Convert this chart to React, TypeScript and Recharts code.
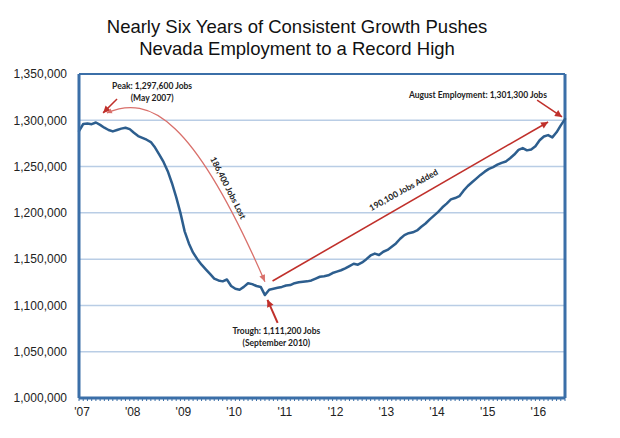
import React from "react";
import {
  LineChart,
  Line,
  XAxis,
  YAxis,
  CartesianGrid,
  ReferenceLine,
  ReferenceDot,
} from "recharts";

// Nevada nonfarm employment, monthly, Jan 2007 .. Aug 2016
const employment = [
  1288400, 1296000, 1296500, 1295800, 1297600, 1295000, 1292000, 1289500, 1288000, 1289500, 1291000, 1292000,
  1290500, 1286500, 1283000, 1281000, 1279000, 1276500, 1270500, 1263000, 1255000, 1245000, 1232000, 1217000,
  1200000, 1180000, 1167000, 1157000, 1150000, 1144000, 1139000, 1134000, 1129000, 1127000, 1126000, 1128000,
  1121000, 1118000, 1117000, 1120000, 1124000, 1123000, 1121000, 1120000, 1111200, 1117000, 1118000, 1119000,
  1120000, 1121500, 1122000, 1124000, 1125000, 1125500, 1126000, 1127000, 1129000, 1131000, 1131500, 1132500,
  1135000, 1136500, 1138000, 1140000, 1142500, 1145000, 1144000, 1146500, 1150000, 1154000, 1156000, 1154500,
  1158000, 1160000, 1163500, 1167000, 1172000, 1176000, 1178000, 1179000, 1181000, 1185000, 1188500, 1193000,
  1197000, 1201000, 1206000, 1210000, 1214500, 1216000, 1218000, 1224000, 1229000, 1233000, 1237000, 1241000,
  1244500, 1247500, 1249500, 1252000, 1254000, 1255500, 1259000, 1263000, 1268000, 1270000, 1267500, 1268500,
  1272000, 1278500, 1282500, 1284000, 1281500, 1287000, 1294500, 1301300,
];
const monthIdx = employment.map((_, i) => i);
const yearLabels = ["'07", "'08", "'09", "'10", "'11", "'12", "'13", "'14", "'15", "'16"];
const yTicks = [1000000, 1050000, 1100000, 1150000, 1200000, 1250000, 1300000, 1350000];

const data = employment.map((v, i) => ({ m: i, jobs: v }));

const FRAME = "#3b6fa8";
const RED = "#c0302b";
const NOTE_FONT = "Lato, 'DejaVu Sans', sans-serif";

function arrowHead(x1: number, y1: number, x2: number, y2: number, color: string, len = 7, half = 3.5) {
  const a = Math.atan2(y2 - y1, x2 - x1);
  const bx = x2 - len * Math.cos(a);
  const by = y2 - len * Math.sin(a);
  const px = -Math.sin(a) * half;
  const py = Math.cos(a) * half;
  return <polygon points={`${x2},${y2} ${bx + px},${by + py} ${bx - px},${by - py}`} fill={color} />;
}

const straightArrow = (color: string, width: number) => (p: any) => {
  const { x1, y1, x2, y2 } = p;
  return (
    <g>
      <line x1={x1} y1={y1} x2={x2} y2={y2} stroke={color} strokeWidth={width} />
      {arrowHead(x1, y1, x2, y2, color)}
    </g>
  );
};

// curved "jobs lost" arrow, control points relative to the segment
const curvedArrow = (p: any) => {
  const { x1, y1, x2, y2 } = p;
  const dx = x2 - x1;
  const dy = y2 - y1;
  const c1x = x1 + 0.27 * dx;
  const c1y = y1 - 0.11 * dy;
  const c2x = x1 + 0.55 * dx;
  const c2y = y1 + 0.03 * dy;
  return (
    <g>
      <path
        d={`M${x1},${y1} C${c1x},${c1y} ${c2x},${c2y} ${x2},${y2}`}
        fill="none"
        stroke="#d9706b"
        strokeWidth={1.3}
      />
      {arrowHead(c2x, c2y, x2, y2, "#d9706b", 7, 3)}
      {arrowHead(c1x, c1y, x1, y1, "#d9706b", 5, 2.5)}
    </g>
  );
};

const note = (lines: string[], angle = 0) => (p: any) => {
  const { cx, cy } = p;
  return (
    <text
      x={cx}
      y={cy}
      textAnchor="middle"
      fontFamily={NOTE_FONT}
      fontWeight={700}
      fontSize={8.5}
      fill="#222"
      transform={angle ? `rotate(${angle} ${cx} ${cy})` : undefined}
    >
      {lines.map((t, i) => (
        <tspan key={i} x={cx} dy={i === 0 ? "0.35em" : 12}>
          {t}
        </tspan>
      ))}
    </text>
  );
};

const xTick = (p: any) => {
  const { x, y, payload } = p;
  if (payload.value % 12 !== 0) return <g />;
  return (
    <text x={x + 3} y={y} dy="0.71em" textAnchor="middle" fontSize={12} fill="#222" fontFamily="'Liberation Sans', Arial, sans-serif">
      {yearLabels[payload.value / 12]}
    </text>
  );
};

export default function App() {
  return (
    <div style={{ position: "absolute", left: 0, top: 0, width: 620, height: 438, background: "#fff" }}>
      <div
        style={{
          position: "absolute",
          left: 0,
          top: 16,
          width: 594,
          textAlign: "center",
          fontFamily: "'Liberation Sans', Arial, sans-serif",
          fontSize: 18.5,
          lineHeight: "22px",
          color: "#111",
        }}
      >
        Nearly Six Years of Consistent Growth Pushes
        <br />
        Nevada Employment to a Record High
      </div>
      <LineChart width={620} height={438} data={data} margin={{ top: 74, right: 55, left: 0, bottom: 0 }}>
        <CartesianGrid vertical={false} stroke="#b9cde5" strokeWidth={1.5} />
        <XAxis
          dataKey="m"
          type="number"
          domain={[0, 115]}
          ticks={monthIdx}
          interval={0}
          height={40}
          axisLine={{ stroke: FRAME, strokeWidth: 3 }}
          tickLine={{ stroke: FRAME, strokeWidth: 1 }}
          tickSize={3}
          tickMargin={6}
          tick={xTick}
        />
        <YAxis
          type="number"
          domain={[1000000, 1350000]}
          ticks={yTicks}
          width={79}
          axisLine={{ stroke: FRAME, strokeWidth: 3 }}
          tickLine={false}
          tickSize={0}
          tickMargin={12}
          tick={{ fontSize: 12, fill: "#222", fontFamily: "'Liberation Sans', Arial, sans-serif" }}
          tickFormatter={(v: number) => v.toLocaleString("en-US")}
        />
        <ReferenceLine y={1350000} stroke={FRAME} strokeWidth={2} ifOverflow="visible" />
        <ReferenceLine x={115} stroke={FRAME} strokeWidth={3} ifOverflow="visible" />
        <Line
          type="linear"
          dataKey="jobs"
          stroke="#2d5e8e"
          strokeWidth={2.5}
          strokeLinejoin="round"
          strokeLinecap="round"
          dot={false}
          isAnimationActive={false}
        />
        {/* annotations */}
        <ReferenceLine
          segment={[{ x: 9.0, y: 1323000 }, { x: 5.7, y: 1308000 }]}
          shape={straightArrow(RED, 1.5)}
          ifOverflow="visible"
        />
        <ReferenceLine
          segment={[{ x: 6.6, y: 1308000 }, { x: 44.0, y: 1125500 }]}
          shape={curvedArrow}
          ifOverflow="visible"
        />
        <ReferenceLine
          segment={[{ x: 45.8, y: 1126400 }, { x: 111.0, y: 1298200 }]}
          shape={straightArrow(RED, 1.6)}
          ifOverflow="visible"
        />
        <ReferenceLine
          segment={[{ x: 108.4, y: 1321900 }, { x: 114.3, y: 1303600 }]}
          shape={straightArrow(RED, 1.5)}
          ifOverflow="visible"
        />
        <ReferenceLine
          segment={[{ x: 47.0, y: 1081100 }, { x: 44.6, y: 1106000 }]}
          shape={straightArrow(RED, 2)}
          ifOverflow="visible"
        />
        <ReferenceDot x={17.3} y={1337000} r={0} shape={note(["Peak: 1,297,600 Jobs", "(May 2007)"])} ifOverflow="visible" />
        <ReferenceDot x={35.3} y={1226900} r={0} shape={note(["186,400 Jobs Lost"], 63)} ifOverflow="visible" />
        <ReferenceDot x={76.8} y={1224700} r={0} shape={note(["190,100 Jobs Added"], -29)} ifOverflow="visible" />
        <ReferenceDot x={94.4} y={1327300} r={0} shape={note(["August Employment: 1,301,300 Jobs"])} ifOverflow="visible" />
        <ReferenceDot
          x={46.7}
          y={1072400}
          r={0}
          shape={note(["Trough:  1,111,200 Jobs", "(September 2010)"])}
          ifOverflow="visible"
        />
      </LineChart>
    </div>
  );
}
